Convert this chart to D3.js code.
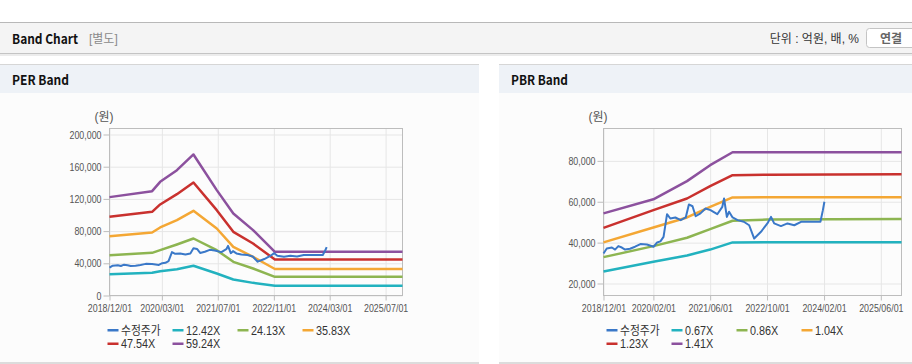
<!DOCTYPE html>
<html>
<head>
<meta charset="utf-8">
<script src="https://cdn.jsdelivr.net/npm/d3@7"></script>
<style>
  body { margin: 0; background: #fff; }
  svg { display: block; }
  text { font-family: "Liberation Sans", "Noto Sans CJK KR", sans-serif; }
  .ttl { font-family: "Noto Sans CJK KR", "Noto Sans", sans-serif; font-weight: bold; }
</style>
</head>
<body>
<div id="chart"></div>
<script>
// shared adjusted price (수정주가)
var priceDates = ['2018-12-01','2018-12-29','2019-02-11','2019-03-10','2019-04-07','2019-05-07','2019-06-04',
  '2019-07-16','2019-08-28','2019-10-13','2019-12-07','2020-02-04','2020-03-04','2020-04-01','2020-04-28',
  '2020-05-28','2020-06-25','2020-08-07','2020-09-22','2020-11-04','2020-12-01','2021-01-01','2021-01-28',
  '2021-03-10','2021-04-22','2021-06-04','2021-08-01','2021-09-13','2021-09-28','2021-10-22','2021-11-10',
  '2021-12-10','2022-01-22','2022-03-16','2022-05-01','2022-06-13','2022-08-10','2022-10-04','2022-11-04',
  '2022-12-01','2023-01-28','2023-03-25','2023-05-22','2023-07-19','2023-09-13','2024-01-01','2024-01-22',
  '2024-02-04'];
var priceValues = [34700,37100,37600,36600,38300,37600,36600,37000,38000,39300,39100,38000,40100,40600,42800,
  53900,51800,52300,51000,52300,58700,57800,52900,54300,56700,55900,53900,57500,61600,52600,55100,
  52300,51000,50200,48500,42000,45300,49400,52600,49400,48100,49400,48500,50200,50200,50200,55900,60000];

// PER band
var perDates = ['2018-12-01','2019-12-07','2020-02-15','2020-07-10','2020-12-01','2021-06-22','2021-11-13',
  '2022-05-04','2022-11-10','2025-11-25'];
var perNames = ['12.42X','24.13X','35.83X','47.54X','59.24X'];
var per1 = [26500,28200,30200,32700,36900,27300,19900,15700,12000,12000];
var per2 = [50100,53000,56300,63400,70800,56300,41800,33500,23200,23200];
var per3 = [73700,78300,84500,93600,105200,83200,60500,48000,32900,32900];
var per4 = [97700,103900,113100,125900,140400,106000,79100,64600,44700,44700];
var per5 = [122200,129600,141200,155700,175200,130900,101900,81200,54200,54200];
var perYTicks = [0,40000,80000,120000,160000,200000];
var perXTicks = ['2018-12-01','2020-03-01','2021-07-01','2022-11-01','2024-03-01','2025-07-01'];

// PBR band
var pbrDates = ['2018-12-01','2020-02-01','2020-11-15','2021-06-01','2021-12-10','2022-10-01','2025-11-25'];
var pbrNames = ['0.67X','0.86X','1.04X','1.23X','1.41X'];
var pbr1 = [25900,30600,33700,36600,40100,40200,40200];
var pbr2 = [32900,38300,42400,46600,50700,51300,51500];
var pbr3 = [40100,47400,52300,57500,62100,62200,62200];
var pbr4 = [47200,55900,61600,67600,73000,73200,73500];
var pbr5 = [54300,61200,70100,77900,84200,84200,84200];
var pbrYTicks = [20000,40000,60000,80000];
var pbrXTicks = ['2018-12-01','2020-02-01','2021-06-01','2022-10-01','2024-02-01','2025-06-01'];

var colors = ['#3a78c8','#22b2bf','#8db551','#f4a734','#c9312e','#8c519e'];
var parse = d3.timeParse('%Y-%m-%d');
var fmtDate = d3.timeFormat('%Y/%m/%d');

// narrow the rendered text a bit, the original uses a condensed korean web font
function squeeze(sel, k) {
  sel.each(function () {
    var len = this.getComputedTextLength();
    d3.select(this).attr('textLength', len * k).attr('lengthAdjust', 'spacingAndGlyphs');
  });
}

var W = 912, H = 364;
var svg = d3.select('#chart').append('svg').attr('width', W).attr('height', H);

// top header bar
svg.append('rect').attr('x', 0).attr('y', 22).attr('width', W).attr('height', 1).attr('fill', '#b8b8b8');
svg.append('rect').attr('x', 0).attr('y', 23).attr('width', W).attr('height', 30).attr('fill', '#f4f4f4');
svg.append('rect').attr('x', 0).attr('y', 53).attr('width', W).attr('height', 1).attr('fill', '#c4c4c4');
svg.append('rect').attr('x', 0).attr('y', 54).attr('width', W).attr('height', 2).attr('fill', '#ececec');
svg.append('text').attr('class', 'ttl').attr('x', 12).attr('y', 43.5).attr('font-size', 13.5)
  .attr('fill', '#111').attr('textLength', 66).attr('lengthAdjust', 'spacingAndGlyphs').text('Band Chart');
svg.append('text').attr('x', 89).attr('y', 43).attr('font-size', 12).attr('fill', '#8a8a8a').text('[별도]');
svg.append('text').attr('x', 859).attr('y', 43).attr('font-size', 12).attr('fill', '#333')
  .attr('text-anchor', 'end').text('단위 : 억원, 배, %');
svg.append('rect').attr('x', 866.5).attr('y', 28.5).attr('width', 52).attr('height', 19).attr('rx', 3)
  .attr('fill', '#fff').attr('stroke', '#c4c4c4');
svg.append('text').attr('class', 'ttl').attr('x', 891).attr('y', 42.5).attr('font-size', 12)
  .attr('fill', '#666').attr('text-anchor', 'middle').text('연결');

function drawPanel(p) {
  var g = svg.append('g');
  g.append('rect').attr('x', p.x0).attr('y', 64).attr('width', p.x1 - p.x0).attr('height', 1).attr('fill', '#d6d6d6');
  g.append('rect').attr('x', p.x0).attr('y', 65).attr('width', p.x1 - p.x0).attr('height', 28).attr('fill', '#eef2f7');
  g.append('rect').attr('x', p.x0).attr('y', 93).attr('width', p.x1 - p.x0).attr('height', 270).attr('fill', '#fcfcfc');
  g.append('rect').attr('x', p.x0).attr('y', 362).attr('width', p.x1 - p.x0).attr('height', 2).attr('fill', '#dcdcdc');
  g.append('text').attr('class', 'ttl').attr('x', p.x0 + 12).attr('y', 84.5).attr('font-size', 13.5)
    .attr('fill', '#111').attr('textLength', 57).attr('lengthAdjust', 'spacingAndGlyphs').text(p.title);

  var x = d3.scaleTime().domain([parse('2018-12-01'), parse('2025-11-25')]).range([p.left, p.right]);
  var y = d3.scaleLinear().domain(p.yDomain).range([295.5, 128.5]);

  // grid
  g.append('g').attr('transform', 'translate(0,295.5)')
    .call(d3.axisBottom(x).tickValues(p.xTicks.map(parse)).tickSize(-167).tickFormat(''))
    .call(function (a) { a.select('.domain').remove(); a.selectAll('line').attr('stroke', '#e6e6e6'); });
  g.append('g').attr('transform', 'translate(' + p.left + ',0)')
    .call(d3.axisLeft(y).tickValues(p.yTicks).tickSize(-(p.right - p.left)).tickFormat(''))
    .call(function (a) { a.select('.domain').remove(); a.selectAll('line').attr('stroke', '#e6e6e6'); });

  g.append('rect').attr('x', p.left).attr('y', 128.5).attr('width', p.right - p.left).attr('height', 167)
    .attr('fill', 'none').attr('stroke', '#bdbdbd');

  // axes
  var ya = g.append('g').attr('transform', 'translate(' + p.left + ',0)')
    .call(d3.axisLeft(y).tickValues(p.yTicks).tickSize(6).tickPadding(2).tickFormat(d3.format(',')));
  var xa = g.append('g').attr('transform', 'translate(0,295.5)')
    .call(d3.axisBottom(x).tickValues(p.xTicks.map(parse)).tickSize(5).tickPadding(3).tickFormat(fmtDate));
  [ya, xa].forEach(function (a) {
    a.select('.domain').remove();
    a.selectAll('line').attr('stroke', '#bdbdbd');
    a.selectAll('text').attr('fill', '#555').attr('font-size', 11.5)
      .style('font-family', '"Liberation Sans", sans-serif');
    squeeze(a.selectAll('text'), 0.77);
  });
  g.append('text').attr('x', p.unitX).attr('y', 121).attr('font-size', 12).attr('fill', '#555')
    .attr('text-anchor', 'middle').text('(원)');

  var line = d3.line().x(function (d) { return x(d.date); }).y(function (d) { return y(d.v); });
  var series = [{ name: '수정주가', dates: priceDates, vals: priceValues }];
  p.bands.forEach(function (b, i) { series.push({ name: p.names[i], dates: p.bandDates, vals: b }); });

  // bands first, price on top
  series.slice(1).concat(series.slice(0, 1)).forEach(function (s) {
    var ci = series.indexOf(s);
    var pts = s.dates.map(function (d, i) { return { date: parse(d), v: s.vals[i] }; });
    g.append('path').datum(pts).attr('d', line).attr('fill', 'none')
      .attr('stroke', colors[ci]).attr('stroke-width', ci === 0 ? 2 : 2.5)
      .attr('stroke-linejoin', 'round');
  });

  // legend
  var lg = g.selectAll('.lg').data(series).enter().append('g')
    .attr('transform', function (d, i) {
      return 'translate(' + (p.legX + (i % 4) * 65) + ',' + (330 + Math.floor(i / 4) * 13.5) + ')';
    });
  lg.append('rect').attr('x', 0).attr('y', -1).attr('width', 11).attr('height', 2.5)
    .attr('fill', function (d, i) { return colors[i]; });
  var lt = lg.append('text').attr('x', 13.5).attr('y', 4.5).attr('font-size', 12).attr('fill', '#333')
    .text(function (d) { return d.name; });
  squeeze(lt, 0.9);
}

drawPanel({ x0: 0, x1: 479, title: 'PER Band', left: 109.5, right: 402.5, yDomain: [0, 207450],
  yTicks: perYTicks, xTicks: perXTicks, bandDates: perDates, bands: [per1, per2, per3, per4, per5],
  names: perNames, unitX: 104, legX: 107.5 });
drawPanel({ x0: 499, x1: 912, title: 'PBR Band', left: 603.5, right: 901.5, yDomain: [14130, 95840],
  yTicks: pbrYTicks, xTicks: pbrXTicks, bandDates: pbrDates, bands: [pbr1, pbr2, pbr3, pbr4, pbr5],
  names: pbrNames, unitX: 598, legX: 606.5 });
</script>
</body>
</html>
